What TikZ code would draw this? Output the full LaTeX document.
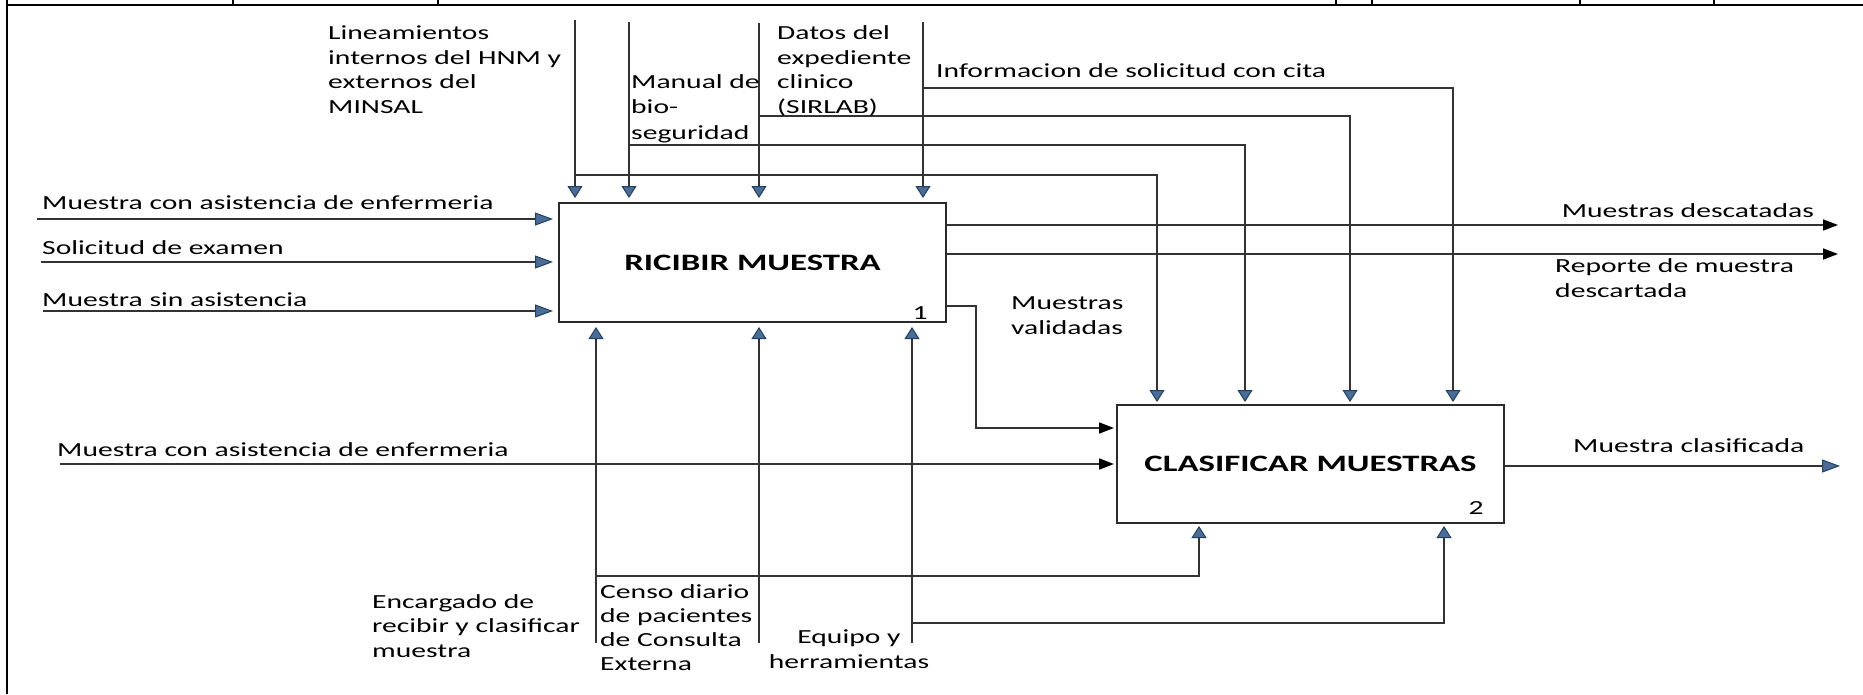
\documentclass[tikz,border=0pt]{standalone}
\usepackage{fontspec}
\setmainfont{Carlito}[FakeStretch=1.48]
\usetikzlibrary{arrows.meta}
\definecolor{linec}{HTML}{333333}
\definecolor{boxc}{HTML}{2A2A2A}
\definecolor{arrowfill}{HTML}{4B6C96}
\definecolor{arrowedge}{HTML}{22405F}
\tikzset{
  lbl/.style={inner sep=0pt, align=left, anchor=base west, font=\fontsize{20}{24.4}\selectfont},
  conn/.style={draw=linec, line width=1.7pt},
  bluev/.style={conn, -{Triangle[width=15pt,length=12pt,line width=1pt,color=arrowedge,fill=arrowfill]}},
  blueh/.style={conn, -{Triangle[width=13pt,length=18pt,line width=1pt,color=arrowedge,fill=arrowfill]}},
  blackh/.style={conn, -{Triangle[width=11pt,length=15pt,color=black,fill=black]}},
  procbox/.style={draw=boxc, line width=2pt, minimum width=387pt, inner sep=0pt, font=\fontsize{23.5}{28}\selectfont\bfseries},
  numlbl/.style={inner sep=0pt, font=\fontsize{20}{24}\selectfont},
  frame/.style={draw=black, line width=2.2pt}
}
\begin{document}
\begin{tikzpicture}[x=1pt,y=-1pt]
\useasboundingbox (0,0) rectangle (1863,694);
% frame / table remnant
\coordinate (fa) at (7,0);
\coordinate (fb) at (7,694);
\coordinate (fc) at (1863,5);
\draw[frame] (fa) -- (fb);
\draw[frame, line width=2.6pt] (7,5) -- (fc);
\foreach \xx in {233,438,1336,1372,1580,1714} \draw[frame, line width=1.6pt] (\xx,0) -- (\xx,5);

% boxes
\node[procbox, minimum height=119pt] (b1) at (752.5,262.5) {RICIBIR MUESTRA};
\node[procbox, minimum height=118pt] (b2) at (1310.5,464) {CLASIFICAR MUESTRAS};
\node[numlbl] (n1) at (920,313) {1};
\node[numlbl] (n2) at (1476,508) {2};

% controls
\coordinate (t1) at (575,20);
\coordinate (t2) at (629,22);
\coordinate (t3) at (759,23);
\coordinate (t4) at (923,22);
\draw[bluev, shorten >=4pt] (t1) -- (t1 |- b1.north);
\draw[bluev, shorten >=4pt] (t2) -- (t2 |- b1.north);
\draw[bluev, shorten >=4pt] (t3) -- (t3 |- b1.north);
\draw[bluev, shorten >=4pt] (t4) -- (t4 |- b1.north);
\coordinate (j1) at (575,175);
\coordinate (j2) at (629,145);
\coordinate (j3) at (759,116);
\coordinate (j4) at (923,88);
\draw[bluev, shorten >=2pt] (j1) -| ([xshift=41pt]b2.north west);
\draw[bluev, shorten >=2pt] (j2) -| ([xshift=129pt]b2.north west);
\draw[bluev, shorten >=2pt] (j3) -| ([xshift=234pt]b2.north west);
\draw[bluev, shorten >=2pt] (j4) -| ([xshift=337pt]b2.north west);

% inputs
\coordinate (i1) at (37,219);
\coordinate (i2) at (41,262);
\coordinate (i3) at (43,311);
\coordinate (i4) at (60,464);
\draw[blueh, shorten >=5pt] (i1) -- (i1 -| b1.west);
\draw[blueh, shorten >=5pt] (i2) -- (i2 -| b1.west);
\draw[blueh, shorten >=5pt] (i3) -- (i3 -| b1.west);
\draw[blackh, shorten >=2pt] (i4) -- (i4 -| b2.west);

% outputs
\coordinate (o1) at (1838,225);
\coordinate (o2) at (1838,254);
\coordinate (o3) at (1840,466);
\draw[blackh] (o1 -| b1.east) -- (o1);
\draw[blackh] (o2 -| b1.east) -- (o2);
\draw[blueh] (o3 -| b2.east) -- (o3);
\coordinate (v1) at (976,306);
\coordinate (v2) at (976,428);
\draw[blackh, shorten >=2pt] (v1 -| b1.east) -- (v1) -- (v2) -- (v2 -| b2.west);

% mechanisms
\coordinate (m1) at (596,643);
\coordinate (m2) at (759,643);
\coordinate (m3) at (912,643);
\draw[bluev, shorten >=4pt] (m1) -- (m1 |- b1.south);
\draw[bluev, shorten >=4pt] (m2) -- (m2 |- b1.south);
\draw[bluev, shorten >=4pt] (m3) -- (m3 |- b1.south);
\coordinate (k1) at (596,576);
\coordinate (k2) at (912,623);
\draw[bluev, shorten >=2pt] (k1) -| ([xshift=83pt]b2.south west);
\draw[bluev, shorten >=2pt] (k2) -| ([xshift=328pt]b2.south west);

% labels (multi-line nodes: base = baseline of last line)
\node[lbl] (lin) at (328,113) {Lineamientos\\internos del HNM y\\externos del\\MINSAL};
\node[lbl, font=\fontsize{20}{25.5}\selectfont] (man) at (631,139) {Manual de\\bio-\\seguridad};
\node[lbl] (dat) at (777,113) {Datos del\\expediente\\clinico\\(SIRLAB)};
\node[lbl] (inf) at (936,77) {Informacion de solicitud con cita};
\node[lbl] (in1) at (42,209) {Muestra con asistencia de enfermeria};
\node[lbl] (in2) at (42,254) {Solicitud de examen};
\node[lbl] (in3) at (42,306) {Muestra sin asistencia};
\node[lbl] (in4) at (57,456) {Muestra con asistencia de enfermeria};
\node[lbl, anchor=base east] (out1) at (1814,217) {Muestras descatadas};
\node[lbl] (out2) at (1555,297) {Reporte de muestra\\descartada};
\node[lbl] (val) at (1011,334) {Muestras\\validadas};
\node[lbl] (out3) at (1573,452) {Muestra clasificada};
\node[lbl] (enc) at (372,657) {Encargado de\\recibir y clasificar\\muestra};
\node[lbl, font=\fontsize{20}{24}\selectfont] (cen) at (600,670) {Censo diario\\de pacientes\\de Consulta\\Externa};
\node[lbl, align=center, anchor=base] (equ) at (849,668) {Equipo y\\herramientas};
\end{tikzpicture}
\end{document}
